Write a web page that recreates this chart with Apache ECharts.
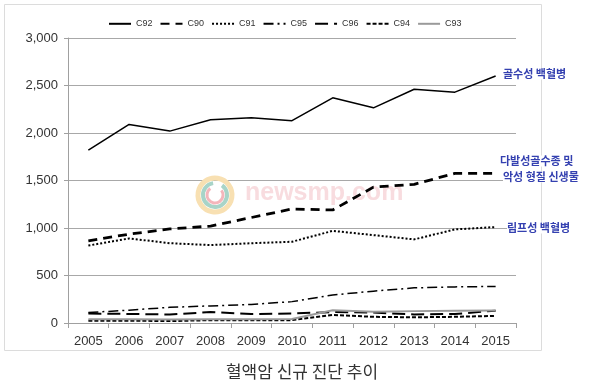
<!DOCTYPE html>
<html>
<head>
<meta charset="utf-8">
<script src="https://cdn.jsdelivr.net/npm/echarts@6/dist/echarts.min.js"></script>
<style>html,body{margin:0;padding:0;background:#fff}#c{width:600px;height:385px}</style>
</head>
<body>
<div id="c"></div>
<script>
const years = ['2005','2006','2007','2008','2009','2010','2011','2012','2013','2014','2015'];
const C92 = [1820, 2090, 2020, 2140, 2160, 2130, 2370, 2265, 2460, 2430, 2600];
const C90 = [865, 935, 990, 1020, 1110, 1200, 1190, 1430, 1460, 1575, 1575];
const C91 = [815, 890, 840, 820, 840, 855, 970, 925, 880, 985, 1010];
const C95 = [110, 135, 165, 180, 195, 225, 295, 335, 370, 380, 385];
const C96 = [100, 95, 90, 115, 95, 100, 115, 110, 90, 95, 130];
const C94 = [25, 25, 20, 30, 30, 30, 85, 65, 60, 65, 75];
const C93 = [40, 40, 38, 40, 40, 42, 135, 118, 125, 128, 132];
const yTicks = [0, 500, 1000, 1500, 2000, 2500, 3000];
const title = '혈액암 신규 진단 추이';
const notes = [
  {text: '골수성 백혈병', x: 503, y: 74},
  {text: '다발성골수종 및', x: 500, y: 161},
  {text: '악성 형질 신생물', x: 503, y: 177},
  {text: '림프성 백혈병', x: 507, y: 228}
];

const chart = echarts.init(document.getElementById('c'), null, {renderer: 'canvas'});
function line(name, data, color, width, type) {
  return {
    name, type: 'line', data, symbol: 'none', z: 5,
    lineStyle: {color, width, type, cap: 'butt'},
    itemStyle: {color}
  };
}
const graphics = [
  {type: 'rect', shape: {x: 4.5, y: 4.5, width: 537, height: 346}, style: {fill: 'none', stroke: '#dcdcdc', lineWidth: 1}, z: 0},
  {type: 'arc', shape: {cx: 215, cy: 195, r: 17, startAngle: -Math.PI*0.45, endAngle: Math.PI*1.55}, style: {fill: 'none', stroke: '#f8e0b2', lineWidth: 5}, z: 1},
  {type: 'arc', shape: {cx: 215, cy: 195, r: 12, startAngle: -Math.PI*0.3, endAngle: Math.PI*1.45}, style: {fill: 'none', stroke: '#a8d4c8', lineWidth: 4}, z: 1},
  {type: 'arc', shape: {cx: 215, cy: 195, r: 8, startAngle: -Math.PI*0.2, endAngle: Math.PI*1.3}, style: {fill: 'none', stroke: '#f4b6bb', lineWidth: 3}, z: 1},
  {type: 'text', x: 245, y: 193, style: {text: 'newsmp.com', font: 'bold 25px "Liberation Sans", Arial, sans-serif', fill: '#f8dcdf', verticalAlign: 'middle'}, z: 1},
  {type: 'text', x: 302, y: 372, style: {text: title, font: '17px "Noto Sans CJK KR", sans-serif', fill: '#333', align: 'center', verticalAlign: 'middle'}, z: 10}
];
notes.forEach(n => graphics.push({
  type: 'text', x: n.x, y: n.y, z: 10,
  style: {text: n.text, font: 'bold 11px "Noto Sans CJK KR", sans-serif', fill: '#3440b0', verticalAlign: 'middle', backgroundColor: '#fff'}
}));

chart.setOption({
  animation: false,
  backgroundColor: '#fff',
  textStyle: {fontFamily: '"Liberation Sans", Arial, sans-serif'},
  grid: {left: 68, right: 84, top: 38, bottom: 62, containLabel: false},
  legend: {
    left: 103, top: 14, itemWidth: 22, itemHeight: 12, itemGap: 7,
    itemStyle: {opacity: 0},
    textStyle: {fontSize: 9, color: '#333', fontFamily: '"Liberation Sans", Arial, sans-serif'},
    data: ['C92','C90','C91','C95','C96','C94','C93']
  },
  xAxis: {
    type: 'category', data: years, boundaryGap: true,
    axisLine: {lineStyle: {color: '#a0a0a0'}},
    axisTick: {show: true, length: 5, lineStyle: {color: '#a0a0a0'}},
    axisLabel: {fontSize: 13, color: '#333', margin: 12}
  },
  yAxis: {
    type: 'value', min: 0, max: 3000, interval: 500,
    axisLine: {show: true, lineStyle: {color: '#a0a0a0'}},
    axisTick: {show: true, length: 4, lineStyle: {color: '#a0a0a0'}},
    splitLine: {lineStyle: {color: '#a8a8a8', width: 1}},
    axisLabel: {fontSize: 13, color: '#333', margin: 10,
      formatter: v => yTicks.includes(v) ? v.toLocaleString('en-US') : ''}
  },
  graphic: graphics,
  series: [
    line('C92', C92, '#000', 1.5, 'solid'),
    line('C90', C90, '#000', 2.8, [9, 6]),
    line('C91', C91, '#000', 2, [2, 2]),
    line('C95', C95, '#000', 1.5, [10, 4, 2, 4]),
    line('C96', C96, '#000', 2, [13, 6]),
    line('C94', C94, '#000', 2, [4, 2]),
    line('C93', C93, '#9a9a9a', 2, 'solid')
  ]
});
</script>
</body>
</html>
